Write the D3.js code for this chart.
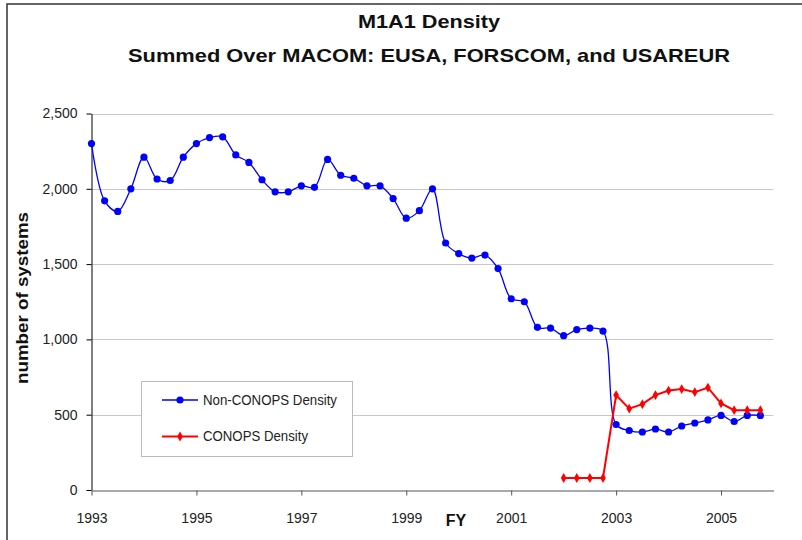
<!DOCTYPE html>
<html><head><meta charset="utf-8">
<script src="https://cdn.jsdelivr.net/npm/d3@7"></script>
<style>body{margin:0;background:#fff}svg{display:block}text{font-family:Arial,"Liberation Sans",sans-serif}</style>
</head><body><svg id="c" width="802" height="540"></svg>
<script>
const titleLines = ["M1A1 Density", "Summed Over MACOM: EUSA, FORSCOM, and USAREUR"];
const yTitle = "number of systems";
const xTitle = "FY";
const startYear = 1993;
const xTickYears = [1993, 1995, 1997, 1999, 2001, 2003, 2005];
const yTicks = [0, 500, 1000, 1500, 2000, 2500];
const nonConops = [2300,1920,1850,2000,2210,2065,2055,2210,2300,2340,2345,2225,2175,2060,1980,1980,
  2020,2010,2195,2090,2070,2020,2020,1935,1805,1855,2000,1640,1570,1540,1560,1470,
  1270,1250,1080,1075,1025,1065,1075,1055,435,395,385,405,385,425,445,465,
  495,455,495,495];
const conopsStart = 2002;
const conops = [80,80,80,80,630,540,570,630,660,670,650,680,575,530,530,530];
const seriesNames = ["Non-CONOPS Density", "CONOPS Density"];

const svg = d3.select("#c");
// chart border
svg.append("rect").attr("x",7).attr("y",4).attr("width",820).attr("height",560)
  .attr("fill","none").attr("stroke","#333").attr("stroke-width",1.5);

const x = d3.scaleLinear().domain([1993, 2006]).range([91.5, 773.5]);
const y = d3.scaleLinear().domain([0, 2500]).range([490, 113.5]);

// gridlines
svg.append("g").selectAll("line").data(yTicks.slice(1)).join("line")
  .attr("x1",91.5).attr("x2",773.5).attr("y1",d=>Math.round(y(d))+0.5).attr("y2",d=>Math.round(y(d))+0.5)
  .attr("stroke","#c8c8c8").attr("stroke-width",1);

// y axis
const yAxis = d3.axisLeft(y).tickValues(yTicks).tickSize(5).tickSizeOuter(0).tickPadding(9)
  .tickFormat(d3.format(","));
const gy = svg.append("g").attr("transform","translate(91.5,0)").call(yAxis);
gy.select(".domain").attr("stroke","#000");
gy.selectAll(".tick line").attr("stroke","#000");
gy.selectAll("text").attr("font-size",14).attr("fill","#222").attr("font-family","Arial, 'Liberation Sans', sans-serif");

// x axis
const xAxis = d3.axisBottom(x).tickValues(xTickYears).tickSize(5).tickSizeOuter(0).tickPadding(18)
  .tickFormat(d3.format("d"));
const gx = svg.append("g").attr("transform","translate(0,490.5)").call(xAxis);
gx.select(".domain").attr("stroke","#555");
gx.selectAll(".tick line").attr("stroke","#555");
gx.selectAll("text").attr("font-size",14).attr("fill","#222").attr("font-family","Arial, 'Liberation Sans', sans-serif");

// titles
svg.append("text").attr("x",429).attr("y",28).attr("text-anchor","middle")
  .attr("font-size",19).attr("font-weight","bold").attr("fill","#111")
  .attr("textLength",142).attr("lengthAdjust","spacingAndGlyphs").text(titleLines[0]);
svg.append("text").attr("x",429).attr("y",62).attr("text-anchor","middle")
  .attr("font-size",19).attr("font-weight","bold").attr("fill","#111")
  .attr("textLength",602).attr("lengthAdjust","spacingAndGlyphs").text(titleLines[1]);
svg.append("text").attr("transform","translate(28,298) rotate(-90)").attr("text-anchor","middle")
  .attr("font-size",17).attr("font-weight","bold").attr("fill","#111")
  .attr("textLength",172).attr("lengthAdjust","spacingAndGlyphs").text(yTitle);
svg.append("text").attr("x",456).attr("y",526).attr("text-anchor","middle")
  .attr("font-size",16).attr("font-weight","bold").attr("fill","#111").text(xTitle);

// data
const blue = nonConops.map((v,i)=>({t:startYear+i/4, v}));
const red = conops.map((v,i)=>({t:conopsStart+i/4, v}));

svg.append("path").datum(blue)
  .attr("d", d3.line().x(d=>x(d.t)).y(d=>y(d.v)).curve(d3.curveCatmullRom.alpha(0.5)))
  .attr("fill","none").attr("stroke","#0000ff").attr("stroke-width",1.3);
svg.append("path").datum(red)
  .attr("d", d3.line().x(d=>x(d.t)).y(d=>y(d.v)))
  .attr("fill","none").attr("stroke","#ff0000").attr("stroke-width",2);

const diamond = d3.symbol().type(d3.symbolDiamond).size(28);
svg.append("g").selectAll("circle").data(blue).join("circle")
  .attr("cx",d=>x(d.t)).attr("cy",d=>y(d.v)).attr("r",3.6).attr("fill","#0000ff");
svg.append("g").selectAll("path").data(red).join("path")
  .attr("transform",d=>`translate(${x(d.t)},${y(d.v)})`).attr("d",diamond).attr("fill","#ff0000");

// legend
const lg = svg.append("g");
lg.append("rect").attr("x",141.5).attr("y",381.5).attr("width",211).attr("height",75)
  .attr("fill","#fff").attr("stroke","#bbb").attr("stroke-width",1);
const rows = [{name:seriesNames[0], color:"#0000ff", yy:400, sym:"c", w:134},{name:seriesNames[1], color:"#ff0000", yy:436.5, sym:"d", w:105}];
rows.forEach(r=>{
  lg.append("line").attr("x1",162).attr("x2",198).attr("y1",r.yy).attr("y2",r.yy)
    .attr("stroke",r.color).attr("stroke-width",r.sym==="c"?1.3:2);
  if(r.sym==="c") lg.append("circle").attr("cx",180).attr("cy",r.yy).attr("r",3.6).attr("fill",r.color);
  else lg.append("path").attr("transform",`translate(180,${r.yy})`).attr("d",diamond).attr("fill",r.color);
  lg.append("text").attr("x",203).attr("y",r.yy).attr("dy","0.35em").attr("font-size",14).attr("fill","#222")
    .attr("textLength",r.w).attr("lengthAdjust","spacingAndGlyphs").text(r.name);
});
</script></body></html>
